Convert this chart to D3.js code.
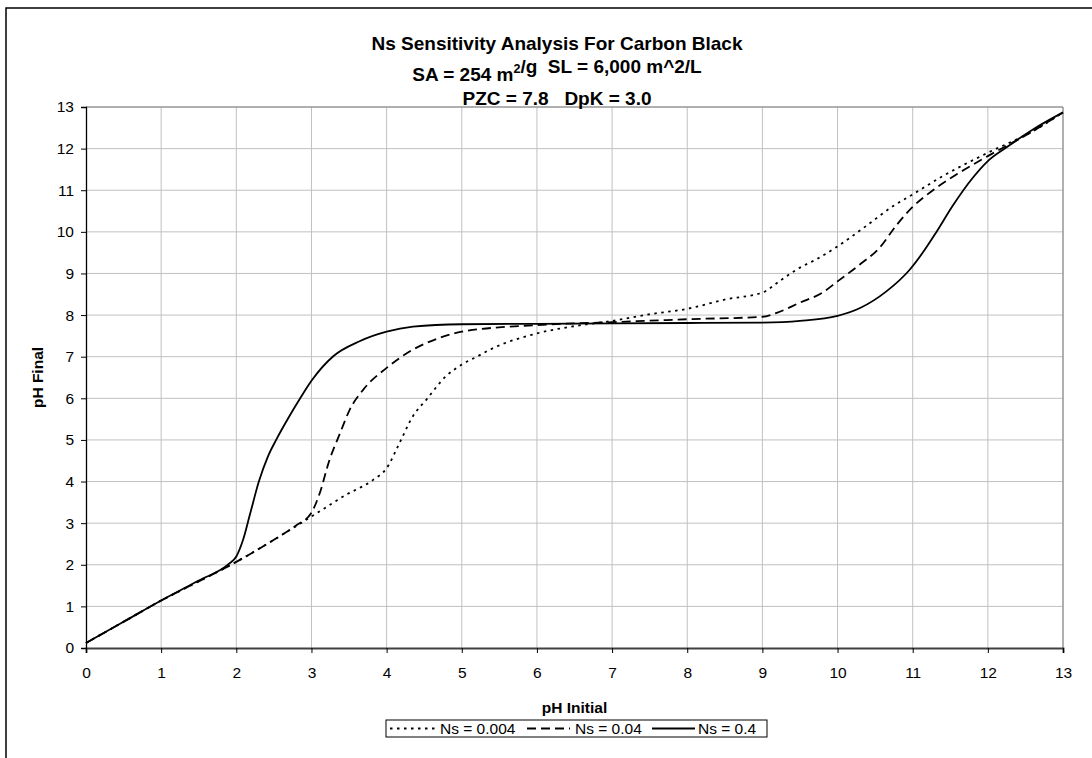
<!DOCTYPE html>
<html><head><meta charset="utf-8">
<script src="https://cdn.jsdelivr.net/npm/d3@7"></script>
<style>
html,body{margin:0;padding:0;background:#fff;}
svg{display:block;font-family:"Liberation Sans",Arial,sans-serif;}
</style></head>
<body><svg id="chart" width="1092" height="758"></svg>
<script>
// ---- data ----
const titleLines = ["Ns Sensitivity Analysis For Carbon Black", "SA = 254 m|2|/g  SL = 6,000 m^2/L", "PZC = 7.8   DpK = 3.0"];
const xTicks = [0,1,2,3,4,5,6,7,8,9,10,11,12,13];
const yTicks = [0,1,2,3,4,5,6,7,8,9,10,11,12,13];
const seriesNames = ["Ns = 0.004", "Ns = 0.04", "Ns = 0.4"];
const ns004 = [[0,0.12],[0.5,0.63],[1,1.14],[1.5,1.6],[2,2.07],[2.5,2.6],[3,3.16],[3.46,3.68],[3.82,4.04],[4.0,4.32],[4.17,4.92],[4.35,5.57],[4.53,5.97],[4.79,6.53],[5.0,6.81],[5.2,7.0],[5.41,7.2],[6.0,7.56],[6.52,7.74],[7.0,7.86],[7.5,8.02],[8.0,8.15],[8.52,8.38],[9.0,8.54],[9.23,8.82],[9.5,9.14],[9.72,9.34],[10.0,9.65],[10.38,10.14],[10.74,10.62],[11.0,10.9],[11.4,11.34],[12.0,11.9],[12.6,12.42],[13,12.87]];
const ns04 = [[0,0.12],[0.5,0.63],[1,1.14],[1.5,1.6],[2,2.07],[2.5,2.6],[2.8,2.95],[3.0,3.25],[3.11,3.72],[3.24,4.52],[3.38,5.16],[3.51,5.73],[3.69,6.21],[4.0,6.73],[4.35,7.17],[4.7,7.45],[5.0,7.6],[6,7.76],[7,7.83],[8,7.9],[9,7.96],[9.2,8.06],[9.5,8.3],[9.8,8.54],[10.0,8.81],[10.3,9.22],[10.56,9.62],[10.78,10.15],[11.0,10.6],[11.27,11.0],[11.62,11.42],[12.0,11.82],[12.6,12.42],[13,12.87]];
const ns4 = [[0,0.12],[0.5,0.63],[1,1.14],[1.5,1.62],[1.9,2.02],[2.0,2.2],[2.09,2.6],[2.18,3.2],[2.3,4.0],[2.42,4.6],[2.53,5.0],[2.7,5.55],[2.85,6.0],[3.0,6.42],[3.29,7.01],[3.64,7.37],[4.0,7.6],[4.35,7.72],[5.0,7.78],[6,7.79],[7,7.8],[8,7.81],[9,7.82],[9.5,7.86],[10.0,7.98],[10.3,8.17],[10.65,8.57],[10.96,9.09],[11.13,9.49],[11.31,9.98],[11.53,10.62],[11.8,11.3],[12.0,11.7],[12.24,12.02],[12.6,12.46],[13,12.87]];
const seriesData = [ns004, ns04, ns4];
const dashes = ["2.5,4.5", "9,5", null];

// ---- layout ----
const svg = d3.select("#chart");
const L = 86, R = 1063, T = 107, B = 648;
const x = d3.scaleLinear().domain([0,13]).range([L,R]);
const y = d3.scaleLinear().domain([0,13]).range([B,T]);

// outer frame
svg.append("rect").attr("x",6).attr("y",8).attr("width",1200).attr("height",900)
  .attr("fill","none").attr("stroke","#000").attr("stroke-width",1.5);

// gridlines
svg.append("g").selectAll("line").data(xTicks.slice(1)).join("line")
  .attr("x1",d=>x(d)).attr("x2",d=>x(d)).attr("y1",T).attr("y2",B)
  .attr("stroke","#c0c0c0").attr("stroke-width",1);
svg.append("g").selectAll("line").data(yTicks.slice(1)).join("line")
  .attr("x1",L).attr("x2",R).attr("y1",d=>y(d)).attr("y2",d=>y(d))
  .attr("stroke","#c0c0c0").attr("stroke-width",1);
// plot border top/right
svg.append("line").attr("x1",L).attr("x2",R).attr("y1",T).attr("y2",T).attr("stroke","#808080");
svg.append("line").attr("x1",R).attr("x2",R).attr("y1",T).attr("y2",B).attr("stroke","#808080");

// axes
const xAxis = svg.append("g").attr("transform",`translate(0,${B})`)
  .call(d3.axisBottom(x).tickValues(xTicks).tickSize(5).tickPadding(14).tickFormat(d3.format("d")));
xAxis.select(".domain").attr("stroke","#404040").attr("stroke-width",2);
xAxis.selectAll(".tick line").attr("stroke","#000");
xAxis.selectAll("text").attr("font-size",15.5).attr("fill","#000").attr("font-family","Liberation Sans, Arial, sans-serif");

const yAxis = svg.append("g").attr("transform",`translate(${L},0)`)
  .call(d3.axisLeft(y).tickValues(yTicks).tickSize(5).tickPadding(7).tickFormat(d3.format("d")));
yAxis.select(".domain").attr("stroke","#000").attr("stroke-width",1.3);
yAxis.selectAll(".tick line").attr("stroke","#000");
yAxis.selectAll("text").attr("font-size",15.5).attr("fill","#000").attr("font-family","Liberation Sans, Arial, sans-serif");

// lines
const line = d3.line().x(d=>x(d[0])).y(d=>y(d[1])).curve(d3.curveMonotoneX);
seriesData.forEach((s,i)=>{
  svg.append("path").datum(s).attr("d",line).attr("fill","none")
    .attr("stroke","#000").attr("stroke-width",1.8)
    .attr("stroke-dasharray",dashes[i]);
});

// titles
const tg = svg.append("g").attr("font-weight","bold").attr("font-size",19).attr("text-anchor","middle");
const baselines = [50,81,105];
titleLines.forEach((t,i)=>{
  const txt = tg.append("text").attr("x",557).attr("y",baselines[i]).style("white-space","pre");
  const parts = t.split("|");
  parts.forEach((p,j)=>{
    if(j%2===1){
      txt.append("tspan").attr("font-size",12.5).attr("dy",-8).text(p);
      txt.append("tspan").attr("dy",8).text("");
    } else {
      txt.append("tspan").text(p);
    }
  });
});

// axis titles
svg.append("text").attr("x",(L+R)/2).attr("y",713).attr("text-anchor","middle")
  .attr("font-weight","bold").attr("font-size",15.5).text("pH Initial");
svg.append("text").attr("transform",`translate(43,${(T+B)/2}) rotate(-90)`).attr("text-anchor","middle")
  .attr("font-weight","bold").attr("font-size",15.5).text("pH Final");

// legend
const lg = svg.append("g");
lg.append("rect").attr("x",386).attr("y",720).attr("width",381).attr("height",17)
  .attr("fill","#fff").attr("stroke","#000").attr("stroke-width",1);
const legX = [[390,438,440],[527,570,575],[652,695,698]];
seriesNames.forEach((n,i)=>{
  lg.append("line").attr("x1",legX[i][0]).attr("x2",legX[i][1]).attr("y1",728.5).attr("y2",728.5)
    .attr("stroke","#000").attr("stroke-width",1.8).attr("stroke-dasharray",dashes[i]);
  lg.append("text").attr("x",legX[i][2]).attr("y",734).attr("font-size",15.5).text(n);
});
</script></body></html>
